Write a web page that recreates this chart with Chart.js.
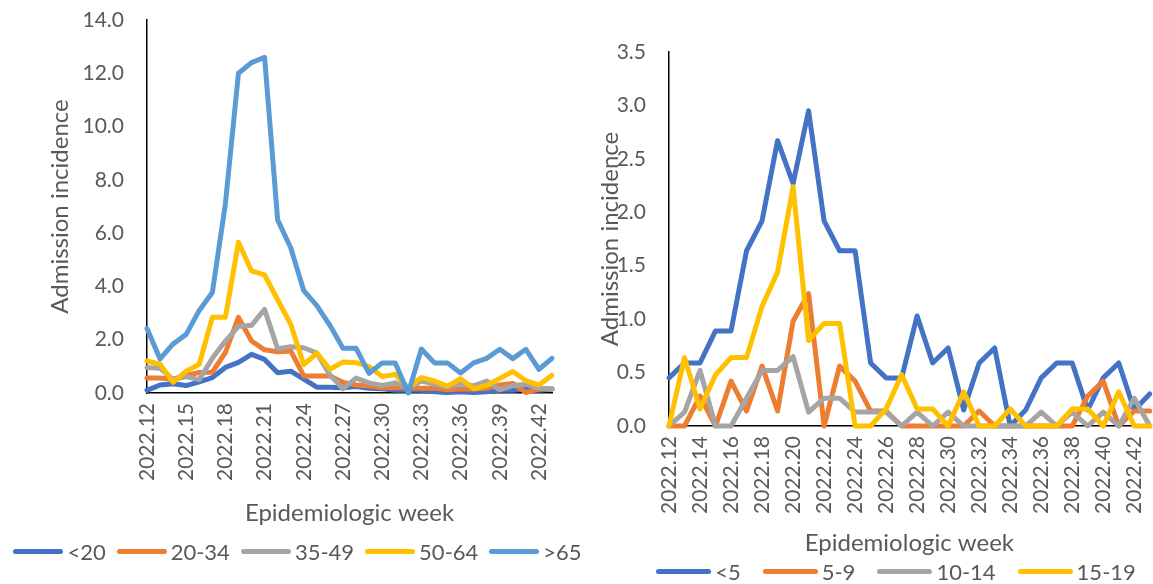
<!DOCTYPE html>
<html>
<head>
<meta charset="utf-8">
<script src="https://cdn.jsdelivr.net/npm/chart.js@4.4.1/dist/chart.umd.min.js"></script>
<style>
html,body{margin:0;padding:0;background:#fff;overflow:hidden}
#wrap{position:relative;width:1153px;height:584px;overflow:hidden}
#wrap canvas{position:absolute;left:0;top:0}
.lg{position:absolute;display:flex;align-items:center;justify-content:center;height:30px;font-family:Lato,sans-serif;font-size:22px;color:#595959;white-space:nowrap}
.lg .it{display:flex;align-items:center}
.lg .ln{height:5px;border-radius:3px;margin-right:4px}
</style>
</head>
<body>
<div id="wrap">
  <canvas id="adultChart" width="1153" height="584"></canvas>
  <canvas id="childChart" width="1170" height="584"></canvas>
  <div class="lg" id="adultLegend" style="left:0;width:595px;top:536px"></div>
  <div class="lg" id="childLegend" style="left:600px;width:592px;top:556px"></div>
</div>
<script>
const weeks = ['2022.12','2022.13','2022.14','2022.15','2022.16','2022.17','2022.18','2022.19',
  '2022.20','2022.21','2022.22','2022.23','2022.24','2022.25','2022.26','2022.27',
  '2022.28','2022.29','2022.30','2022.31','2022.32','2022.33','2022.34','2022.35',
  '2022.36','2022.37','2022.38','2022.39','2022.40','2022.41','2022.42','2022.43'];

// adults (left panel)
const adultGroups = ['<20','20-34','35-49','50-64','>65'];
const ageLt20 = [0.10,0.30,0.35,0.28,0.42,0.58,0.96,1.15,1.45,1.26,0.76,0.82,0.52,0.22,0.22,0.20,0.24,0.18,0.16,0.10,0.10,0.10,0.05,0.02,0.05,0.02,0.05,0.10,0.10,0.15,0.10,0.15];
const age20_34 = [0.56,0.56,0.52,0.66,0.77,0.78,1.52,2.84,1.95,1.62,1.55,1.58,0.64,0.64,0.64,0.40,0.30,0.26,0.20,0.20,0.20,0.18,0.18,0.12,0.15,0.15,0.18,0.30,0.36,0.02,0.15,0.15];
const age35_49 = [0.96,0.93,0.50,0.62,0.50,1.30,1.95,2.50,2.54,3.14,1.66,1.74,1.70,1.50,0.68,0.16,0.56,0.38,0.28,0.38,0.20,0.45,0.34,0.22,0.34,0.27,0.45,0.12,0.28,0.33,0.17,0.17];
const age50_64 = [1.20,1.08,0.40,0.82,1.08,2.84,2.84,5.66,4.58,4.43,3.50,2.58,1.06,1.50,0.89,1.16,1.14,0.99,0.62,0.70,0.20,0.58,0.45,0.26,0.54,0.16,0.28,0.55,0.81,0.46,0.30,0.67];
const ageGt65 = [2.42,1.28,1.84,2.20,3.10,3.77,7.10,12.0,12.4,12.6,6.50,5.45,3.84,3.28,2.54,1.68,1.68,0.74,1.13,1.13,0.00,1.65,1.13,1.13,0.75,1.13,1.30,1.64,1.29,1.64,0.89,1.30];

// children (right panel)
const childGroups = ['<5','5-9','10-14','15-19'];
const ageLt5 = [0.45,0.59,0.59,0.89,0.89,1.64,1.92,2.67,2.27,2.95,1.92,1.64,1.64,0.59,0.45,0.45,1.03,0.59,0.73,0.15,0.59,0.73,0.00,0.15,0.45,0.59,0.59,0.15,0.45,0.59,0.15,0.30];
const age5_9 = [0,0,0.28,0,0.42,0.14,0.56,0.14,0.98,1.24,0,0.56,0.42,0.14,0.14,0,0,0,0,0,0.14,0,0,0,0,0,0,0.28,0.42,0,0.14,0.14];
const age10_14 = [0,0.13,0.52,0,0,0.26,0.52,0.52,0.65,0.13,0.26,0.26,0.13,0.13,0.13,0,0.13,0,0.13,0,0,0,0,0,0.13,0,0.13,0,0.13,0,0.26,0];
const age15_19 = [0,0.64,0.16,0.48,0.64,0.64,1.12,1.44,2.24,0.80,0.96,0.96,0,0,0.16,0.48,0.16,0.16,0,0.32,0,0,0.16,0,0,0,0.16,0.16,0,0.32,0,0];

const colors = ['#4472C4','#ED7D31','#A5A5A5','#FFC000','#5B9BD5'];
const txt = '#595959';
const FONT = 'Lato';

function makeSets(labels, series) {
  return series.map((d,i) => ({
    label: labels[i], data: d, borderColor: colors[i], backgroundColor: colors[i],
    borderWidth: 5, pointRadius: 0, tension: 0, fill: false, clip: 10,
    borderJoinStyle: 'round', borderCapStyle: 'round',
    order: series.length - 1 - i
  }));
}

function makeChart(id, labels, series, o) {
  return new Chart(document.getElementById(id), {
    type: 'line',
    data: { labels: weeks, datasets: makeSets(labels, series) },
    options: {
      responsive: false, animation: false,
      layout: { padding: o.pad },
      plugins: { legend: {display:false}, tooltip: {enabled:false} },
      scales: {
        x: {
          grid: { display:false, drawTicks:false },
          border: { color:'#000', width:1.5 },
          afterFit: s => { s.height = o.xh; },
          ticks: {
            autoSkip:false, minRotation:90, maxRotation:90, padding:10,
            color: txt, font: { family:FONT, size:21 },
            callback: (v,i) => i % o.every === 0 ? weeks[i] : null
          },
          title: { display:true, text:'Epidemiologic week', color:txt, padding:0,
            font: { family:FONT, size:24, lineHeight:1.2 } }
        },
        y: {
          min: 0, max: o.max,
          grid: { display:false, drawTicks:false },
          border: { color:'#000', width:1.5 },
          afterFit: s => { s.width = o.yw; s.paddingTop = 10; s.paddingBottom = 10; },
          ticks: { stepSize: o.step, padding:23, color:txt, font:{ family:FONT, size:21 },
            callback: v => v.toFixed(1) },
          title: { display:true, text:'Admission incidence', color:txt, padding:0,
            font: { family:FONT, size:24, lineHeight:1.2 } }
        }
      }
    }
  });
}

makeChart('adultChart', adultGroups, [ageLt20,age20_34,age35_49,age50_64,ageGt65], {
  pad: { left:45.6, top:20, right:601, bottom:56.6 }, yw: 101.4, xh: 134.4,
  max: 14, step: 2, every: 3
});
makeChart('childChart', childGroups, [ageLt5,age5_9,age10_14,age15_19], {
  pad: { left:595.6, top:52, right:17, bottom:26.6 }, yw: 73.4, xh: 131.4,
  max: 3.5, step: 0.5, every: 2
});

function legendHtml(labels, lineW, gap) {
  return labels.map((l,i) => `
    <div class="it" style="margin-left:${i ? gap : 0}px">
      <div class="ln" style="width:${lineW}px;background:${colors[i]}"></div><span>${l}</span>
    </div>`).join('');
}
document.getElementById('adultLegend').innerHTML = legendHtml(adultGroups, 50, 11);
document.getElementById('childLegend').innerHTML = legendHtml(childGroups, 55, 22);
</script>
</body>
</html>
